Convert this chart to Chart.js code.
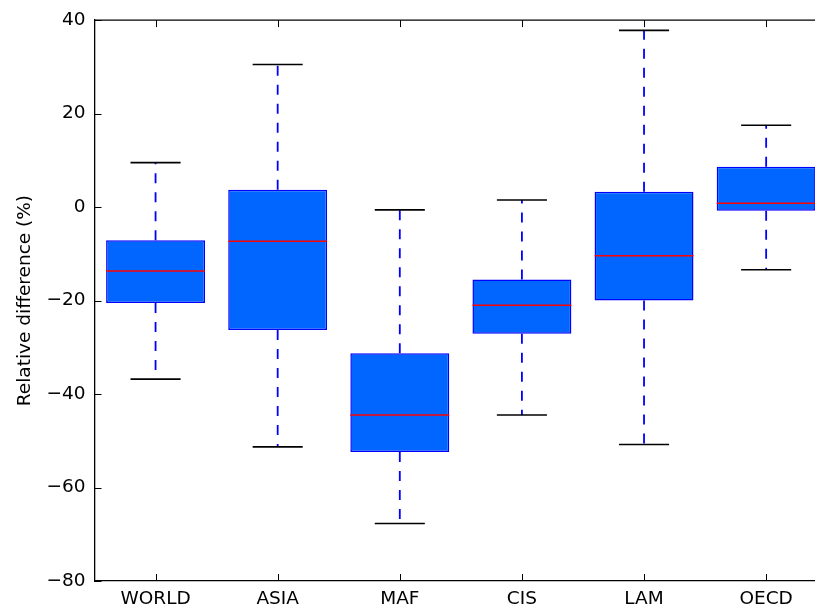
<!DOCTYPE html>
<html>
<head>
<meta charset="utf-8">
<script src="https://cdn.jsdelivr.net/npm/chart.js@4/dist/chart.umd.min.js"></script>
<style>
  html, body { margin: 0; padding: 0; background: #ffffff; }
  #wrap { width: 815px; height: 609px; }
</style>
</head>
<body>
<div id="wrap"><canvas id="c" width="815" height="609"></canvas></div>
<script>
// ---- data ----
const categories  = ['WORLD', 'ASIA', 'MAF', 'CIS', 'LAM', 'OECD'];
const whiskerLow  = [-36.8, -51.3, -67.7, -44.5, -50.8, -13.4];
const q1          = [-20.5, -26.3, -52.4, -27.1, -20.0, -0.8];
const median      = [-13.7,  -7.3, -44.5, -21.0, -10.4,  0.8];
const q3          = [ -7.1,   3.7, -31.3, -15.5,   3.3,  8.6];
const whiskerHigh = [  9.5,  30.5,  -0.6,   1.5,  37.8, 17.5];
const yTicks      = [-80, -60, -40, -20, 0, 20, 40];
const yTitle      = 'Relative difference (%)';

const positions = categories.map((_, i) => i + 1);
const boxData = positions.map((p, i) => ({ x: p, y: [q1[i], q3[i]] }));

const FONT = "'DejaVu Sans', sans-serif";
const BOX_HALF = 0.405;
const CAP_HALF = 0.205;
const TICK_LEN = 7;

const boxPlugin = {
  id: 'boxExtras',
  afterDatasetsDraw(chart) {
    const ctx = chart.ctx;
    const xs = chart.scales.x, ys = chart.scales.y;
    const area = chart.chartArea;
    ctx.save();
    positions.forEach((p, i) => {
      const cx = xs.getPixelForValue(p);
      // whiskers
      ctx.strokeStyle = '#0000ff';
      ctx.lineWidth = 1.8;
      ctx.setLineDash([10, 9]);
      ctx.beginPath();
      ctx.moveTo(cx, ys.getPixelForValue(q3[i]));
      ctx.lineTo(cx, ys.getPixelForValue(whiskerHigh[i]));
      ctx.stroke();
      ctx.beginPath();
      ctx.moveTo(cx, ys.getPixelForValue(q1[i]));
      ctx.lineTo(cx, ys.getPixelForValue(whiskerLow[i]));
      ctx.stroke();
      ctx.setLineDash([]);
      // caps
      ctx.strokeStyle = '#000000';
      ctx.lineWidth = 1.6;
      [whiskerHigh[i], whiskerLow[i]].forEach(v => {
        const y = ys.getPixelForValue(v);
        ctx.beginPath();
        ctx.moveTo(xs.getPixelForValue(p - CAP_HALF), y);
        ctx.lineTo(xs.getPixelForValue(p + CAP_HALF), y);
        ctx.stroke();
      });
      // median
      ctx.strokeStyle = '#ff0000';
      ctx.lineWidth = 1.5;
      const my = ys.getPixelForValue(median[i]);
      ctx.beginPath();
      ctx.moveTo(xs.getPixelForValue(p - BOX_HALF), my);
      ctx.lineTo(xs.getPixelForValue(p + BOX_HALF), my);
      ctx.stroke();
    });
    // frame top
    ctx.strokeStyle = '#000000';
    ctx.lineWidth = 1.3;
    ctx.beginPath();
    ctx.moveTo(area.left, area.top);
    ctx.lineTo(area.right, area.top);
    ctx.stroke();
    // inward ticks (right frame lies beyond the canvas edge)
    ctx.lineWidth = 1;
    yTicks.forEach(v => {
      const y = Math.round(ys.getPixelForValue(v)) + 0.5;
      ctx.beginPath();
      ctx.moveTo(area.left, y);
      ctx.lineTo(area.left + TICK_LEN, y);
      ctx.stroke();
    });
    positions.forEach(p => {
      const x = Math.round(xs.getPixelForValue(p)) + 0.5;
      ctx.beginPath();
      ctx.moveTo(x, area.bottom);
      ctx.lineTo(x, area.bottom - TICK_LEN);
      ctx.moveTo(x, area.top);
      ctx.lineTo(x, area.top + TICK_LEN);
      ctx.stroke();
    });
    ctx.restore();
  }
};

new Chart(document.getElementById('c'), {
  type: 'bar',
  data: {
    datasets: [{
      data: boxData,
      backgroundColor: '#0066ff',
      borderColor: '#0000ff',
      borderWidth: 1.5,
      borderSkipped: false,
      barPercentage: 1.0,
      categoryPercentage: 0.81
    }]
  },
  options: {
    responsive: false,
    animation: false,
    layout: { padding: { top: 19, right: 0, bottom: 0, left: 0 } },
    plugins: { legend: { display: false }, tooltip: { enabled: false } },
    scales: {
      x: {
        type: 'linear',
        offset: false,
        min: 0.5,
        max: 6.4,
        grid: { display: false, drawTicks: false },
        border: { display: true, color: '#000000', width: 1.3 },
        afterBuildTicks: (s) => { s.ticks = positions.map(v => ({ value: v })); },
        afterFit: (s) => { s.height = 28; },
        ticks: {
          autoSkip: false,
          maxRotation: 0,
          padding: 7,
          color: '#000000',
          font: { family: FONT, size: 18.5 },
          callback: (v) => categories[v - 1] || ''
        }
      },
      y: {
        min: -80,
        max: 40,
        grid: { display: false, drawTicks: false },
        border: { display: true, color: '#000000', width: 1.3 },
        afterBuildTicks: (s) => { s.ticks = yTicks.map(v => ({ value: v })); },
        afterFit: (s) => { s.width = 94.5; },
        title: {
          display: true,
          text: yTitle,
          color: '#000000',
          font: { family: FONT, size: 18.5 },
          padding: { top: 14, bottom: 0 }
        },
        ticks: {
          padding: 9,
          color: '#000000',
          font: { family: FONT, size: 18.5 },
          callback: (v) => String(v).replace('-', '\u2212')
        }
      }
    }
  },
  plugins: [boxPlugin]
});
</script>
</body>
</html>
